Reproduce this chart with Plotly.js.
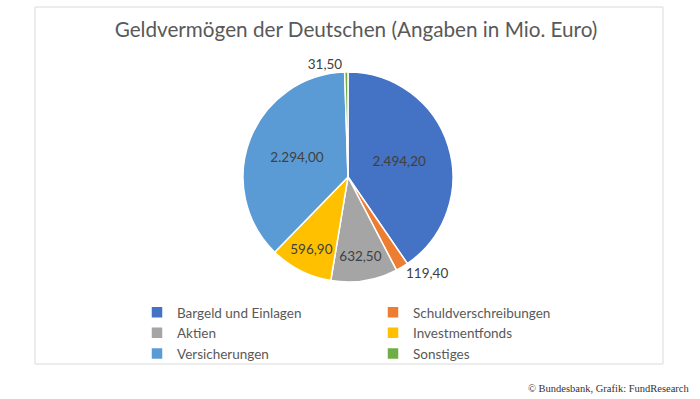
<!DOCTYPE html>
<html>
<head>
<meta charset="utf-8">
<script src="https://cdn.plot.ly/plotly-3.0.1.min.js"></script>
<style>html,body{margin:0;padding:0;background:#fff;}#chart{width:700px;height:399px;}</style>
</head>
<body>
<div id="chart"></div>
<script>
const categories = ["Bargeld und Einlagen", "Schuldverschreibungen", "Aktien", "Investmentfonds", "Versicherungen", "Sonstiges"];
const values = [2494.2, 119.4, 632.5, 596.9, 2294.0, 31.5];
const valueLabels = ["2.494,20", "119,40", "632,50", "596,90", "2.294,00", "31,50"];
const colors = ["#4472C4", "#ED7D31", "#A5A5A5", "#FFC000", "#5B9BD5", "#70AD47"];
const positions = ["inside", "outside", "inside", "inside", "inside", "outside"];

const W = 700, H = 399;
const px = x => x / W;
const py = y => 1 - y / H;

const trace = {
  type: "pie",
  labels: categories,
  values: values,
  text: valueLabels,
  textinfo: "text",
  hoverinfo: "label+text",
  textposition: positions,
  insidetextorientation: "horizontal",
  sort: false,
  direction: "clockwise",
  rotation: 0,
  marker: {colors: colors, line: {color: "#ffffff", width: 1.5}},
  textfont: {family: "Lato, sans-serif", size: 13.5, color: "#404040"},
  insidetextfont: {family: "Lato, sans-serif", size: 13.5, color: "#404040"},
  outsidetextfont: {family: "Lato, sans-serif", size: 13.5, color: "#404040"},
  domain: {x: [px(243), px(453)], y: [py(282), py(72)]},
  automargin: false
};

const layout = {
  width: W, height: H,
  margin: {l: 0, r: 0, t: 0, b: 0},
  paper_bgcolor: "#ffffff",
  title: {
    text: "Geldvermögen der Deutschen (Angaben in Mio. Euro)",
    font: {family: "Lato, sans-serif", size: 20.7, color: "#595959"},
    x: px(356), xanchor: "center", y: py(30), yanchor: "middle", xref: "paper", yref: "paper"
  },
  showlegend: true,
  legend: {
    orientation: "h",
    x: px(137), xanchor: "left",
    y: py(297), yanchor: "top",
    entrywidth: 191,
    font: {family: "Lato, sans-serif", size: 13.5, color: "#595959"},
    bgcolor: "rgba(0,0,0,0)"
  },
  shapes: [{
    type: "rect", xref: "paper", yref: "paper",
    x0: px(35), x1: px(663), y0: py(364), y1: py(7),
    line: {color: "#D9D9D9", width: 1}, fillcolor: "rgba(0,0,0,0)", layer: "below"
  }],
  annotations: [{
    text: "© Bundesbank, Grafik: FundResearch",
    xref: "paper", yref: "paper", x: px(692), y: py(388), xanchor: "right", yanchor: "middle",
    showarrow: false, font: {family: "Liberation Serif, serif", size: 10.5, color: "#333333"}
  }]
};

Plotly.newPlot("chart", [trace], layout, {displayModeBar: false, staticPlot: true});
</script>
</body>
</html>
